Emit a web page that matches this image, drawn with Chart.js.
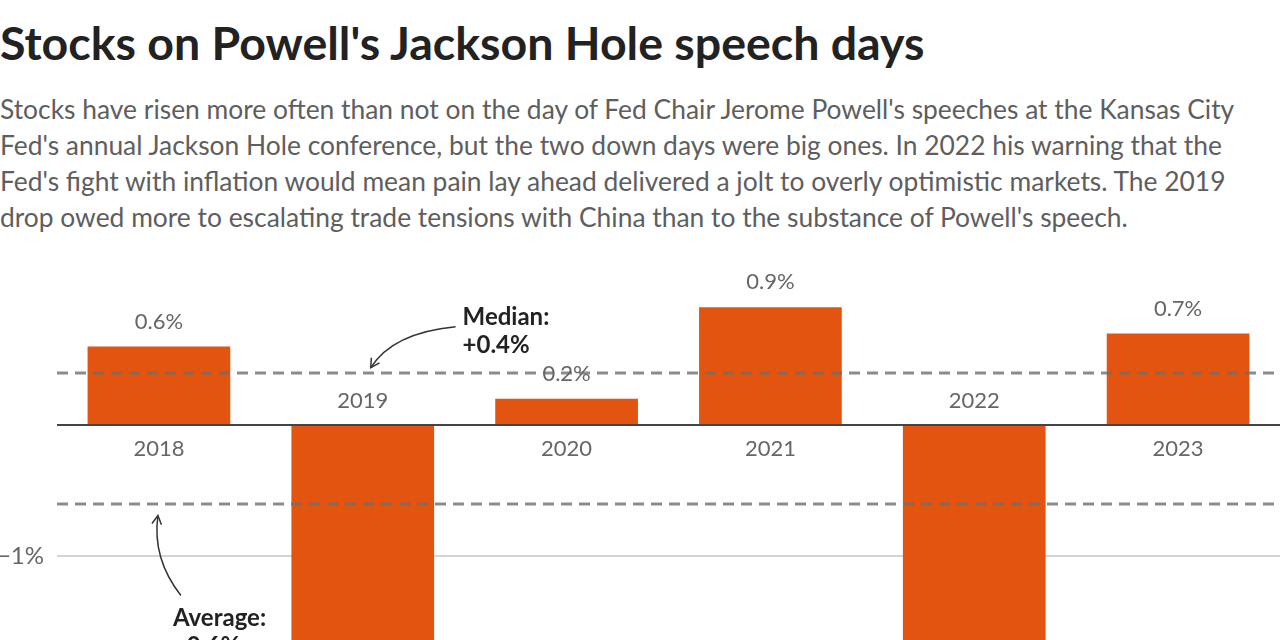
<!DOCTYPE html>
<html>
<head>
<meta charset="utf-8">
<title>Stocks on Powell's Jackson Hole speech days</title>
<script src="https://cdn.jsdelivr.net/npm/chart.js@4.4.1/dist/chart.umd.min.js"></script>
<style>
  body { margin: 0; width: 1280px; height: 640px; overflow: hidden; background: #fff; font-family: Lato, sans-serif; }
  h1 { position: absolute; left: 0; top: 12px; margin: 0; font-size: 46.5px; line-height: 60px; font-weight: 700; color: #222; white-space: nowrap; }
  .sub { position: absolute; left: 0; top: 91px; margin: 0; font-size: 26.4px; line-height: 36px; color: #5e5e5e; white-space: nowrap; }
  #wrap { position: absolute; left: 0; top: 268px; width: 1280px; height: 628px; }
</style>
</head>
<body>
<h1>Stocks on Powell's Jackson Hole speech days</h1>
<p class="sub">Stocks have risen more often than not on the day of Fed Chair Jerome Powell's speeches at the Kansas City<br>Fed's annual Jackson Hole conference, but the two down days were big ones. In 2022 his warning that the<br>Fed's fight with inflation would mean pain lay ahead delivered a jolt to overly optimistic markets. The 2019<br>drop owed more to escalating trade tensions with China than to the substance of Powell's speech.</p>
<div id="wrap"><canvas id="speechChart"></canvas></div>
<script>
// S&P 500 change on Powell's Jackson Hole speech days, %
const years = ['2018', '2019', '2020', '2021', '2022', '2023'];
const dayChange = [0.6, -2.6, 0.2, 0.9, -3.4, 0.7];
const medianChange = 0.4;
const averageChange = -0.6;
const yTicks = [0, -1, -2, -3];

const fmt = (v) => (v < 0 ? '\u2212' : '') + Math.abs(v) + '%';

Chart.defaults.font.family = 'Lato, sans-serif';

// dashed reference lines, bar labels and the two notes
const overlay = {
    id: 'overlay',
    afterDatasetsDraw(chart) {
        const { ctx, chartArea } = chart;
        const x = chart.scales.x;
        const y = chart.scales.y;
        const zero = y.getPixelForValue(0);

        ctx.save();

        // median / average lines
        ctx.strokeStyle = 'rgba(110,110,110,0.8)';
        ctx.lineWidth = 3;
        ctx.setLineDash([11, 7]);
        [medianChange, averageChange].forEach(v => {
            const py = Math.round(y.getPixelForValue(v));
            ctx.beginPath();
            ctx.moveTo(chartArea.left, py);
            ctx.lineTo(chartArea.right, py);
            ctx.stroke();
        });
        ctx.setLineDash([]);

        // year + value labels
        ctx.fillStyle = '#666';
        ctx.font = '22px Lato, sans-serif';
        ctx.textAlign = 'center';
        ctx.textBaseline = 'middle';
        dayChange.forEach((v, i) => {
            const px = x.getPixelForValue(i);
            const top = y.getPixelForValue(v);
            if (v >= 0) {
                ctx.fillText(years[i], px, zero + 24);
                ctx.fillText(fmt(v), px, top - 25);
            } else {
                ctx.fillText(years[i], px, zero - 24);
                ctx.fillText(fmt(v), px, top + 25);
            }
        });

        // notes
        ctx.fillStyle = '#222';
        ctx.font = 'bold 24px Lato, sans-serif';
        ctx.textAlign = 'left';
        ctx.textBaseline = 'alphabetic';
        const medY = y.getPixelForValue(medianChange);
        const avgY = y.getPixelForValue(averageChange);
        const mx = x.getPixelForValue(2) - 104;
        ctx.fillText('Median:', mx, medY - 48);
        ctx.fillText('+' + medianChange + '%', mx, medY - 20);
        const ax = x.getPixelForValue(0) + 14;
        ctx.fillText('Average:', ax, avgY + 122);
        ctx.fillText(fmt(averageChange), ax, avgY + 150);

        ctx.strokeStyle = '#333';
        ctx.lineWidth = 1.5;
        const arrow = (sx, sy, cx, cy, tx, ty) => {
            ctx.beginPath();
            ctx.moveTo(sx, sy);
            ctx.quadraticCurveTo(cx, cy, tx, ty);
            ctx.stroke();
            const a = Math.atan2(ty - cy, tx - cx);
            ctx.beginPath();
            ctx.moveTo(tx - 10 * Math.cos(a - 0.5), ty - 10 * Math.sin(a - 0.5));
            ctx.lineTo(tx, ty);
            ctx.lineTo(tx - 10 * Math.cos(a + 0.5), ty - 10 * Math.sin(a + 0.5));
            ctx.stroke();
        };
        const tipX = x.getPixelForValue(1) + 8;
        arrow(mx - 7, medY - 46, tipX + 22, medY - 40, tipX, medY - 5);
        const atX = x.getPixelForValue(0) - 1;
        arrow(ax + 8, avgY + 92, atX - 6, avgY + 55, atX, avgY + 12);

        ctx.restore();
    }
};

new Chart(document.getElementById('speechChart'), {
    type: 'bar',
    data: {
        labels: years,
        datasets: [{
            data: dayChange,
            backgroundColor: '#e2540f',
            borderWidth: 0,
            barPercentage: 0.7,
            categoryPercentage: 1.0
        }]
    },
    options: {
        responsive: true,
        maintainAspectRatio: false,
        animation: false,
        layout: { padding: 0 },
        plugins: {
            legend: { display: false },
            tooltip: { enabled: false }
        },
        scales: {
            x: { display: false },
            y: {
                min: -3.6,
                max: 1.2,
                afterBuildTicks: (scale) => {
                    scale.ticks = yTicks.map(v => ({ value: v }));
                },
                afterFit: (scale) => {
                    scale.width = 57;
                    scale.paddingTop = 0;
                    scale.paddingBottom = 0;
                },
                border: { display: false },
                grid: {
                    drawTicks: false,
                    lineWidth: 2,
                    color: (c) => (c.tick && c.tick.value === 0 ? '#444' : '#d4d4d4')
                },
                ticks: {
                    padding: 13,
                    color: '#666',
                    font: { size: 24 },
                    callback: (v) => (v === 0 ? '' : fmt(v))
                }
            }
        }
    },
    plugins: [overlay]
});
</script>
</body>
</html>
